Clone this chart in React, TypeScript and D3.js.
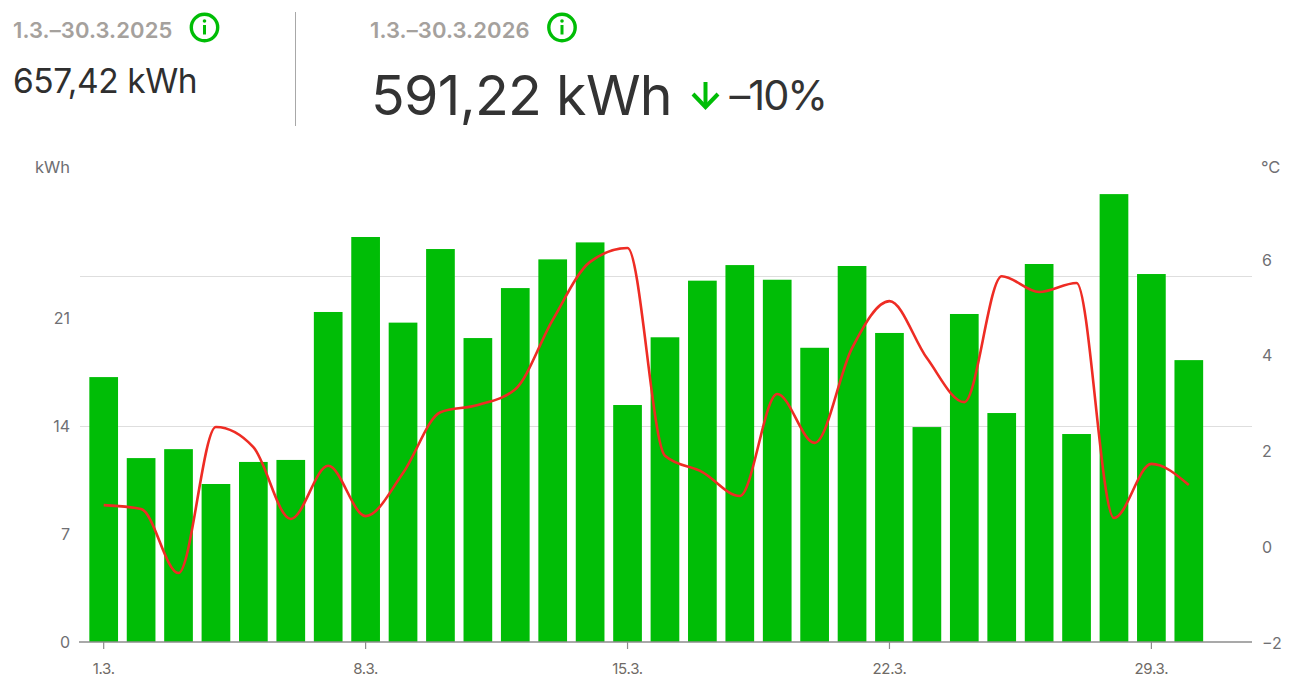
import React, { useRef, useEffect } from 'react';
import * as d3 from 'd3';

const days = Array.from({ length: 30 }, (_, i) => `${i + 1}.3.`);
const energyKwh = [
  17.17, 11.92, 12.5, 10.24, 11.67, 11.8, 21.39, 26.25, 20.7, 25.47,
  19.7, 22.94, 24.8, 25.9, 15.36, 19.75, 23.42, 24.43, 23.48, 19.07,
  24.37, 20.03, 13.93, 21.26, 14.84, 24.5, 13.48, 29.03, 23.85, 18.27,
];
const temperature = [
  0.86, 0.78, -0.56, 2.49, 2.07, 0.57, 1.68, 0.63, 1.53, 2.8,
  2.95, 3.28, 4.73, 5.94, 6.23, 1.89, 1.55, 1.05, 3.18, 2.16,
  4.14, 5.12, 3.93, 3.01, 5.64, 5.31, 5.5, 0.59, 1.72, 1.28,
];
const xTicks = ['1.3.', '8.3.', '15.3.', '22.3.', '29.3.'];
const kwhTicks = [0, 7, 14, 21];
const tempTicks = [-2, 0, 2, 4, 6];
const gridValues = [14, 23.72];

const GREEN = '#00bd06';
const FONT = 'Inter, sans-serif';

function InfoIcon({ cx, cy }: { cx: number; cy: number }) {
  return (
    <g>
      <circle cx={cx} cy={cy} r={13.2} fill="none" stroke={GREEN} strokeWidth={3.4} />
      <circle cx={cx} cy={cy - 6.5} r={1.8} fill={GREEN} />
      <line x1={cx} x2={cx} y1={cy - 2.5} y2={cy + 7} stroke={GREEN} strokeWidth={3} />
    </g>
  );
}

export default function App() {
  const chartRef = useRef<SVGGElement>(null);

  useEffect(() => {
    const g = d3.select(chartRef.current);
    g.selectAll('*').remove();

    const x = d3.scaleBand().domain(days).range([85, 1207.5]).paddingInner(0.233).paddingOuter(0.116);
    const yKwh = d3.scaleLinear().domain([0, 21]).range([642, 318]);
    const yTemp = d3.scaleLinear().domain([-2, 6]).range([642, 259]);

    // grid
    g.append('g')
      .selectAll('line')
      .data(gridValues)
      .join('line')
      .attr('x1', 80)
      .attr('x2', 1252)
      .attr('y1', d => Math.floor(yKwh(d)) + 0.5)
      .attr('y2', d => Math.floor(yKwh(d)) + 0.5)
      .attr('stroke', '#dedede')
      .attr('stroke-width', 1);

    // bars
    g.append('g')
      .selectAll('rect')
      .data(energyKwh)
      .join('rect')
      .attr('x', (_, i) => x(days[i]))
      .attr('y', d => yKwh(d))
      .attr('width', x.bandwidth())
      .attr('height', d => yKwh(0) - yKwh(d))
      .attr('fill', GREEN);

    // x axis
    const xAxis = g.append('g')
      .attr('transform', 'translate(0, 642)')
      .call(d3.axisBottom(x).tickValues(xTicks).tickSize(7).tickPadding(14))
      .call(a => a.select('.domain').remove());
    xAxis.selectAll('line').attr('stroke', '#8c8c8c').attr('stroke-width', 1.2);
    xAxis.selectAll('text')
      .attr('fill', '#6f6a66')
      .style('font', `15px ${FONT}`)
      .style('letter-spacing', '-0.3px');
    g.append('line')
      .attr('x1', 79)
      .attr('x2', 1252)
      .attr('y1', 642)
      .attr('y2', 642)
      .attr('stroke', '#8c8c8c')
      .attr('stroke-width', 1.5);

    // left axis
    const left = g.append('g')
      .attr('transform', 'translate(70, 0)')
      .call(d3.axisLeft(yKwh).tickValues(kwhTicks).tickSize(0).tickPadding(0))
      .call(a => a.select('.domain').remove());
    left.selectAll('text').attr('fill', '#6f6f73').style('font', `16px ${FONT}`);

    // right axis
    const right = g.append('g')
      .attr('transform', 'translate(1262, 1)')
      .call(d3.axisRight(yTemp).tickValues(tempTicks).tickSize(0).tickPadding(0))
      .call(a => a.select('.domain').remove());
    right.selectAll('text').attr('fill', '#6f6f73').style('font', `16px ${FONT}`);

    // temperature line
    const line = d3.line<number>()
      .x((_, i) => (x(days[i]) as number) + x.bandwidth() / 2)
      .y(d => yTemp(d))
      .curve(d3.curveMonotoneX);
    g.append('path')
      .attr('d', line(temperature))
      .attr('fill', 'none')
      .attr('stroke', '#ee2c24')
      .attr('stroke-width', 2.6);
  }, []);

  return (
    <svg width={1299} height={695} style={{ position: 'absolute', left: 0, top: 0, background: '#fff' }}>
      <text x={13} y={38} fontFamily={FONT} fontSize={22} fontWeight={600} fill="#a5a19d" letterSpacing={0.1}>1.3.–30.3.2025</text>
      <InfoIcon cx={204.5} cy={27.5} />
      <text x={13} y={93} fontFamily={FONT} fontSize={33.5} fill="#2f2f2f" letterSpacing={-0.4}>657,42 kWh</text>

      <line x1={295.5} x2={295.5} y1={12} y2={126} stroke="#a8a8a8" strokeWidth={1} />

      <text x={370} y={38} fontFamily={FONT} fontSize={22} fontWeight={600} fill="#a5a19d" letterSpacing={0.1}>1.3.–30.3.2026</text>
      <InfoIcon cx={562} cy={27.5} />
      <text x={371} y={115} fontFamily={FONT} fontSize={55.5} fill="#333333" letterSpacing={-0.7}>591,22 kWh</text>

      <g fill="none" stroke={GREEN} strokeWidth={4}>
        <line x1={705.5} x2={705.5} y1={82} y2={106} />
        <path d="M693 94 L705.5 107 L718 94" />
      </g>
      <text x={729.5} y={110} fontFamily={FONT} fontSize={41.5} fill="#333333" letterSpacing={-2}>–10%</text>

      <text x={70} y={172.5} textAnchor="end" fontFamily={FONT} fontSize={16.5} fill="#6f6f73">kWh</text>
      <text x={1261} y={172.5} fontFamily={FONT} fontSize={16.5} fill="#6f6f73">°C</text>

      <g ref={chartRef} />
    </svg>
  );
}
